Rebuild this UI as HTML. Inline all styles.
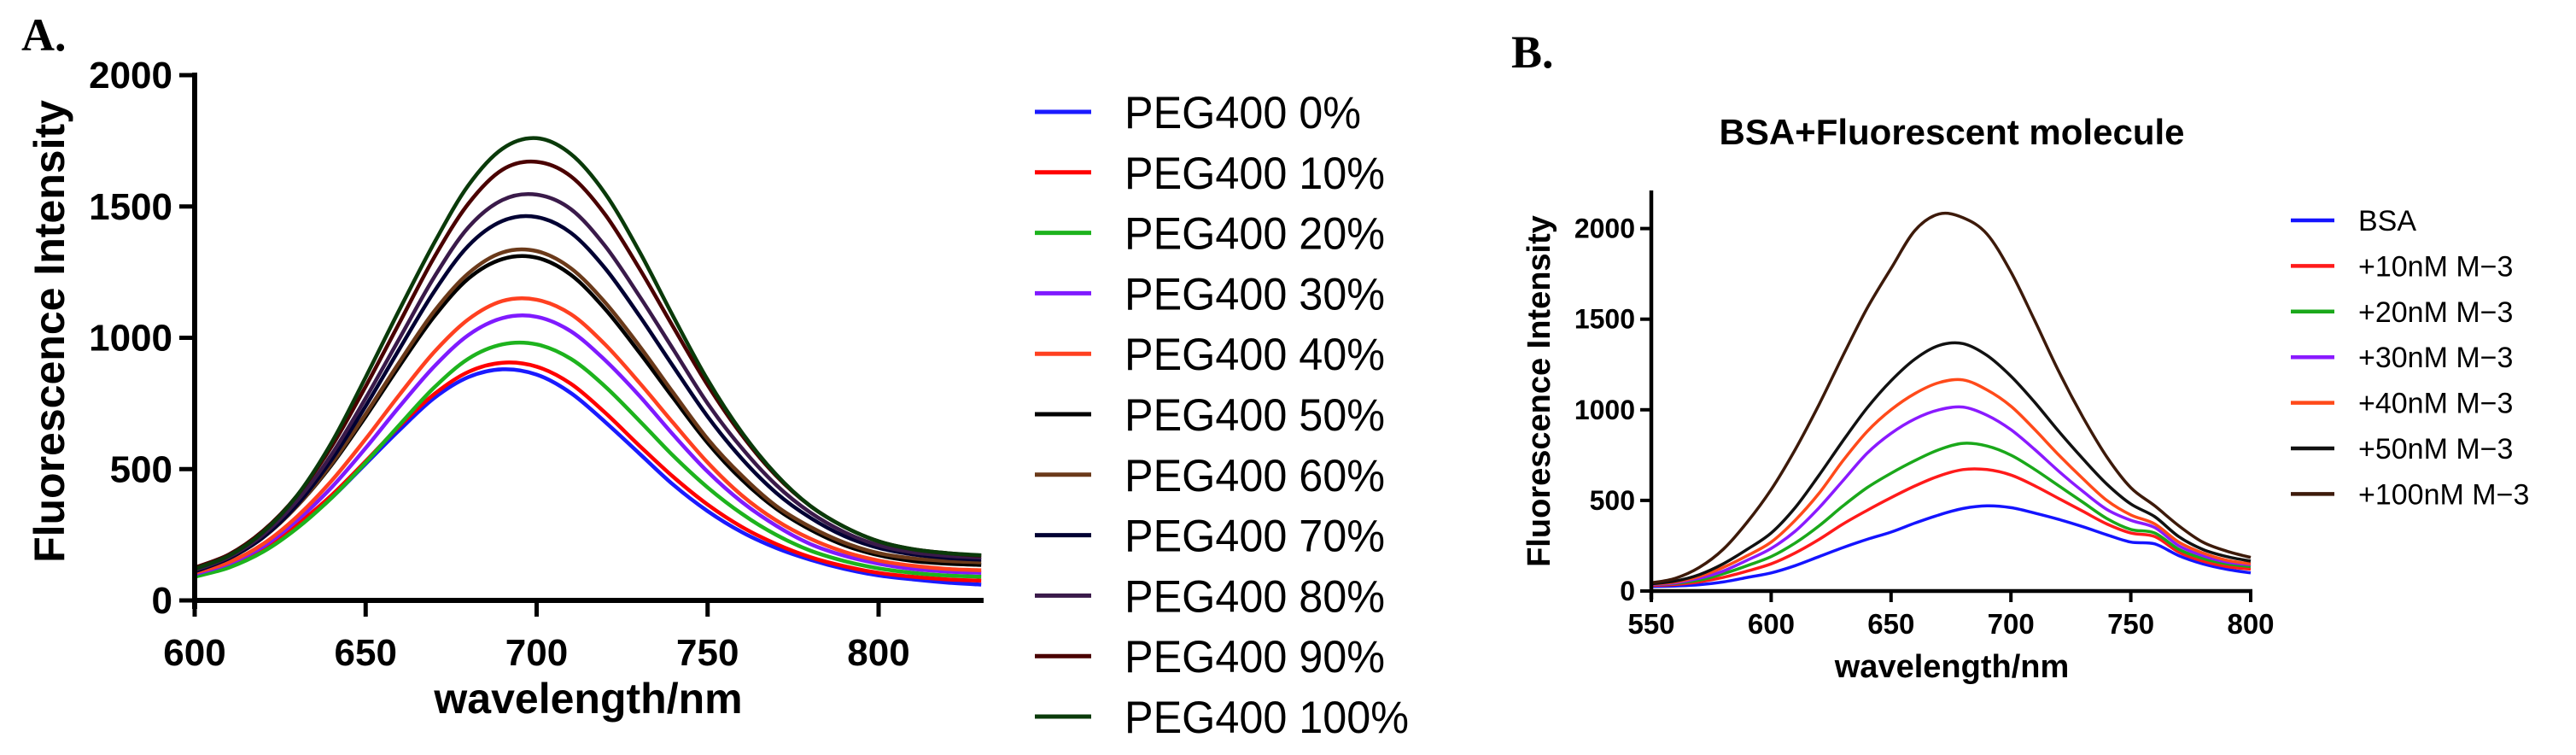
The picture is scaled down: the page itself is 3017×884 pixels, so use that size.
<!DOCTYPE html>
<html><head><meta charset="utf-8">
<style>
html,body{margin:0;padding:0;background:#fff;}
svg{display:block;}
text{font-family:"Liberation Sans",Arial,sans-serif;fill:#000;}
</style></head>
<body>
<svg id="chart" width="3017" height="884" viewBox="0 0 3017 884" xmlns="http://www.w3.org/2000/svg">
<g id="A"></g>
<g id="B"></g>
</svg>
<script>
// ---------- Panel A data ----------
const aWavelengths = [600,610,620,630,640,650,660,670,680,690,700,710,720,730,740,750,760,770,780,790,800,810,820,830];
const aLabels = ["PEG400 0%","PEG400 10%","PEG400 20%","PEG400 30%","PEG400 40%","PEG400 50%","PEG400 60%","PEG400 70%","PEG400 80%","PEG400 90%","PEG400 100%"];
const aColors = ["#1a1aff","#ff0000","#1db31d","#7f1aff","#ff4020","#000000","#6b3a1a","#000033","#3a1a4a","#4a0000","#0a3a0a"];
const aPeg0   = [95,130,190,280,390,520,650,770,850,880,860,790,680,560,440,340,260,200,155,120,95,80,68,60];
const aPeg10  = [105,140,200,290,400,530,665,785,870,905,890,825,715,590,470,365,280,215,165,130,105,90,80,75];
const aPeg20  = [90,125,185,275,390,525,670,810,920,975,975,920,815,685,550,430,330,250,190,150,122,105,95,90];
const aPeg30  = [100,140,205,305,430,580,740,890,1010,1075,1080,1025,915,780,630,490,375,285,215,170,140,120,110,105];
const aPeg40  = [105,145,215,320,455,615,785,945,1070,1140,1145,1090,975,830,675,525,400,305,235,185,152,132,120,115];
const aPeg50  = [115,160,240,360,515,700,895,1080,1225,1300,1305,1240,1110,945,770,600,460,350,270,210,172,150,140,135];
const aPeg60  = [115,160,240,360,520,710,910,1100,1245,1325,1330,1265,1135,970,790,615,475,360,280,220,180,160,150,145];
const aPeg70  = [110,160,240,365,535,740,960,1175,1350,1445,1460,1400,1265,1085,890,700,540,410,315,245,200,175,162,155];
const aPeg80  = [115,165,250,380,555,770,1000,1230,1420,1525,1545,1490,1350,1160,955,750,580,440,335,260,210,183,170,163];
const aPeg90  = [125,175,265,400,585,815,1060,1305,1510,1640,1670,1615,1470,1265,1040,820,630,475,360,280,225,195,180,170];
const aPeg100 = [120,170,260,400,600,850,1110,1360,1580,1720,1760,1700,1550,1330,1080,840,640,480,360,280,225,195,180,172];
const aSeries = [aPeg0,aPeg10,aPeg20,aPeg30,aPeg40,aPeg50,aPeg60,aPeg70,aPeg80,aPeg90,aPeg100];
const aXTicks = [600,650,700,750,800];
const aYTicks = [0,500,1000,1500,2000];

// ---------- Panel B data ----------
const bWavelengths = [550,560,570,580,590,600,610,620,630,640,650,660,670,680,690,700,710,720,730,740,750,760,770,780,790,800];
const bLabels = ["BSA","+10nM M\u22123","+20nM M\u22123","+30nM M\u22123","+40nM M\u22123","+50nM M\u22123","+100nM  M\u22123"];
const bColors = ["#1414ff","#ff1a1a","#1aa81a","#8a1aff","#ff4a1a","#111111","#3d1a0a"];
const bBSA   = [25,28,35,50,75,100,140,190,240,285,325,375,420,455,470,460,430,395,355,310,270,260,195,150,120,100];
const b10    = [30,36,50,75,110,150,210,285,370,445,515,580,635,670,670,640,580,510,440,370,320,300,215,165,135,120];
const b20    = [35,42,60,95,140,190,265,360,470,570,650,720,780,815,800,750,670,580,490,400,340,320,230,180,150,135];
const b30    = [36,45,70,110,170,235,330,460,610,760,870,950,1000,1015,970,890,780,660,550,450,390,350,250,195,160,145];
const b40    = [38,50,80,130,195,270,390,540,720,880,1000,1090,1150,1165,1110,1020,890,750,620,500,420,370,270,210,170,150];
const b50    = [40,55,90,150,230,320,460,640,830,1010,1160,1280,1355,1365,1300,1185,1040,880,730,590,480,410,300,230,190,165];
const b100   = [45,70,130,230,380,560,780,1030,1300,1560,1780,1990,2080,2060,1970,1760,1490,1210,960,740,570,470,360,270,220,185];
const bSeries = [bBSA,b10,b20,b30,b40,b50,b100];
const bXTicks = [550,600,650,700,750,800];
const bYTicks = [0,500,1000,1500,2000];

const NS = "http://www.w3.org/2000/svg";
function mk(parent, tag, attrs, txt){
  const e = document.createElementNS(NS, tag);
  for (const k in attrs) e.setAttribute(k, attrs[k]);
  if (txt !== undefined) e.textContent = txt;
  parent.appendChild(e);
  return e;
}
function smoothPath(pts){
  let d = "M" + pts[0][0].toFixed(1) + "," + pts[0][1].toFixed(1);
  for (let i = 0; i < pts.length - 1; i++){
    const p0 = pts[Math.max(0,i-1)], p1 = pts[i], p2 = pts[i+1], p3 = pts[Math.min(pts.length-1,i+2)];
    const c1x = p1[0] + (p2[0]-p0[0])/6, c1y = p1[1] + (p2[1]-p0[1])/6;
    const c2x = p2[0] - (p3[0]-p1[0])/6, c2y = p2[1] - (p3[1]-p1[1])/6;
    d += " C" + c1x.toFixed(1) + "," + c1y.toFixed(1) + " " + c2x.toFixed(1) + "," + c2y.toFixed(1) + " " + p2[0].toFixed(1) + "," + p2[1].toFixed(1);
  }
  return d;
}

// ---------- Panel A ----------
(function(){
  const g = document.getElementById("A");
  const x = v => 228 + (v - 600) * 4.005;
  const y = v => 703 - v * 0.3075;
  let t = mk(g, "text", {x:25, y:59, style:"font-family:'Liberation Serif',serif;font-weight:bold;font-size:54px"}, "A.");
  
  
  aSeries.forEach((s, i) => {
    const pts = s.map((v, j) => [x(aWavelengths[j]), y(v)]);
    const p = mk(g, "path", {d: smoothPath(pts), fill:"none", stroke:aColors[i], "stroke-width":4.5, "stroke-linejoin":"round"});
    
    
  });
  let ax = mk(g, "path", {d:"M228,85 V713 M228,703 H1152", stroke:"#000", "stroke-width":6, fill:"none"});
  
  
  aYTicks.forEach(v => {
    const tk = mk(g, "line", {x1:210, x2:228, y1:y(v), y2:y(v), stroke:"#000", "stroke-width":5});
    
    
    const tl = mk(g, "text", {x:202, y:y(v)+15, "text-anchor":"end", style:"font-weight:bold;font-size:44px"}, String(v));
    
    
  });
  aXTicks.forEach(v => {
    const tk = mk(g, "line", {x1:x(v), x2:x(v), y1:703, y2:722, stroke:"#000", "stroke-width":5});
    
    
    const tl = mk(g, "text", {x:x(v), y:779, "text-anchor":"middle", style:"font-weight:bold;font-size:44px"}, String(v));
    
    
  });
  t = mk(g, "text", {x:689, y:835, "text-anchor":"middle", style:"font-weight:bold;font-size:50px"}, "wavelength/nm");
  
  
  t = mk(g, "text", {x:0, y:0, "text-anchor":"middle", transform:"translate(75,388) rotate(-90)", style:"font-weight:bold;font-size:50px"}, "Fluorescence Intensity");
  
  
  aLabels.forEach((lab, i) => {
    const cy = 131 + i * 70.8;
    const lg = mk(g, "g", {});
    
    
    mk(lg, "line", {x1:1212, x2:1278, y1:cy, y2:cy, stroke:aColors[i], "stroke-width":5});
    mk(lg, "text", {x:0, y:0, transform:"translate(1317," + (cy+19) + ") scale(0.95,1)", style:"font-size:53px"}, lab);
  });
})();

// ---------- Panel B ----------
(function(){
  const g = document.getElementById("B");
  const x = v => 1934 + (v - 550) * 2.808;
  const y = v => 692 - v * 0.2122;
  let t = mk(g, "text", {x:1770, y:79, style:"font-family:'Liberation Serif',serif;font-weight:bold;font-size:54px"}, "B.");
  
  
  t = mk(g, "text", {x:2286, y:169, "text-anchor":"middle", style:"font-weight:bold;font-size:42px"}, "BSA+Fluorescent molecule");
  
  
  bSeries.forEach((s, i) => {
    const pts = s.map((v, j) => [x(bWavelengths[j]), y(v)]);
    const p = mk(g, "path", {d: smoothPath(pts), fill:"none", stroke:bColors[i], "stroke-width":3.5, "stroke-linejoin":"round"});
    
    
  });
  let ax = mk(g, "path", {d:"M1934,223 V702 M1934,692 H2638", stroke:"#000", "stroke-width":4.5, fill:"none"});
  
  
  bYTicks.forEach(v => {
    const tk = mk(g, "line", {x1:1921, x2:1934, y1:y(v), y2:y(v), stroke:"#000", "stroke-width":4});
    
    
    const tl = mk(g, "text", {x:1915, y:y(v)+11, "text-anchor":"end", style:"font-weight:bold;font-size:32px"}, String(v));
    
    
  });
  bXTicks.forEach(v => {
    const tk = mk(g, "line", {x1:x(v), x2:x(v), y1:692, y2:705, stroke:"#000", "stroke-width":4});
    
    
    const tl = mk(g, "text", {x:x(v), y:742, "text-anchor":"middle", style:"font-weight:bold;font-size:33px"}, String(v));
    
    
  });
  t = mk(g, "text", {x:2286, y:793, "text-anchor":"middle", style:"font-weight:bold;font-size:38px"}, "wavelength/nm");
  
  
  t = mk(g, "text", {x:0, y:0, "text-anchor":"middle", transform:"translate(1815,458) rotate(-90)", style:"font-weight:bold;font-size:38px"}, "Fluorescence Intensity");
  
  
  bLabels.forEach((lab, i) => {
    const cy = 258 + i * 53.4;
    const lg = mk(g, "g", {});
    
    
    mk(lg, "line", {x1:2683, x2:2734, y1:cy, y2:cy, stroke:bColors[i], "stroke-width":4.5});
    mk(lg, "text", {x:2762, y:cy+12, style:"font-size:34px"}, lab);
  });
})();
</script>
</body></html>
